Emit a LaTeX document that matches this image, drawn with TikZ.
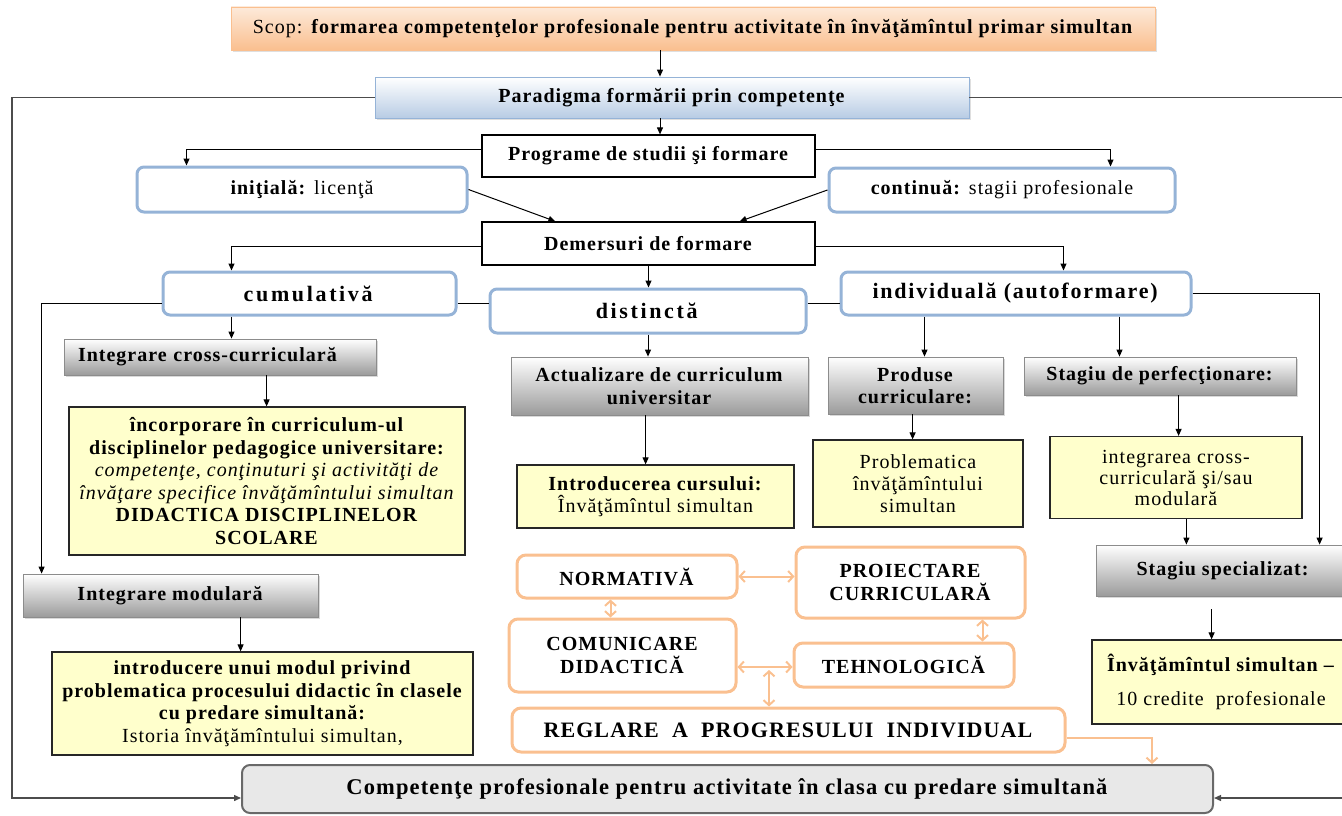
\documentclass[tikz,border=0pt]{standalone}
\usepackage{fontspec}
\setmainfont{Liberation Serif}[LetterSpace=5]
\usetikzlibrary{calc,positioning,arrows.meta,shadows}

\definecolor{scopTop}{RGB}{253,234,218}
\definecolor{scopBot}{RGB}{250,191,143}
\definecolor{paraBot}{RGB}{184,204,228}
\definecolor{boxBlue}{RGB}{149,179,215}
\definecolor{noteYellow}{RGB}{255,255,204}
\definecolor{peach}{RGB}{250,192,144}
\definecolor{compFill}{RGB}{232,232,232}
\definecolor{compLine}{RGB}{105,105,105}
\definecolor{greyBot}{RGB}{155,155,155}

\tikzset{
  arr/.style={-{Triangle[length=7pt,width=6pt]}, line width=1pt, black},
  outline/.style={line width=1.4pt, black!70},
  peacharr/.style={{Straight Barb[length=5pt,width=11pt]}-{Straight Barb[length=5pt,width=11pt]}, line width=2pt, peach},
  plainbox/.style={draw=black, line width=1.2pt, fill=white},
  bluebox/.style={draw=boxBlue, line width=3pt, rounded corners=7pt, fill=white},
  wide/.style={font=\fontsize{22}{24}\selectfont\addfontfeature{LetterSpace=#1}},
  greybox/.style={draw=black!45, line width=.8pt, top color=white, bottom color=greyBot, align=center,
    drop shadow={opacity=.3, shadow xshift=2pt, shadow yshift=-2pt}},
  notebox/.style={draw=black!85, line width=1.2pt, fill=noteYellow, align=center},
  peachbox/.style={draw=peach, line width=3pt, rounded corners=9pt, fill=white, align=center},
}

\begin{document}
\begin{tikzpicture}[x=1pt,y=-1pt,font=\fontsize{20}{22.5}\selectfont]
\useasboundingbox (0,0) rectangle (1342,816);

% Goal and paradigm
\node[draw=scopBot, top color=scopTop, bottom color=scopBot, minimum width=924pt, minimum height=43pt,
  drop shadow={opacity=.25, shadow xshift=2pt, shadow yshift=-2pt}]
  (scop) at (693,28.5) {Scop: \textbf{formarea competenţelor profesionale pentru activitate în învăţămîntul primar simultan}};
\node[draw=boxBlue, line width=.8pt, top color=white, bottom color=paraBot, minimum width=594pt, minimum height=41pt,
  drop shadow={opacity=.25, shadow xshift=2pt, shadow yshift=-2pt}]
  (parad) at (672,97.5) {\textbf{Paradigma formării prin competenţe}};

% Study programmes
\node[plainbox, minimum width=333pt, minimum height=42pt] (prog) at (648.5,156) {\textbf{Programe de studii şi formare}};
\node[bluebox, minimum width=330pt, minimum height=45pt] (init) at (302,189.5) {\textbf{iniţială:} licenţă};
\node[bluebox, minimum width=346pt, minimum height=44pt] (cont) at (1002,190) {\textbf{continuă:} stagii profesionale};
\node[plainbox, minimum width=333pt, minimum height=43pt] (dem) at (648.5,243.5) {\textbf{Demersuri de formare}};

% Three kinds of approach
\node[bluebox, wide=12, minimum width=293pt, minimum height=43pt] (cum) at (309.5,293.5) {\textbf{cumulativă}};
\node[bluebox, wide=12, minimum width=316pt, minimum height=44pt] (dist) at (648,311) {\textbf{distinctă}};
\node[bluebox, wide=8, minimum width=350pt, minimum height=43pt] (indiv) at (1016,293.5) {\textbf{individuală (autoformare)}};

% Left column
\node[greybox, minimum width=312pt, minimum height=36pt, text width=284pt, align=left] (cross) at (220,357) {\textbf{Integrare cross-curriculară}};
\node[notebox, minimum width=396pt, minimum height=148pt] (incorp) at (267,481)
  {\textbf{încorporare în curriculum-ul}\\ \textbf{disciplinelor pedagogice universitare:}\\
   \textit{competenţe, conţinuturi şi activităţi de}\\ \textit{învăţare specifice învăţămîntului simultan}\\
   \textbf{DIDACTICA DISCIPLINELOR}\\ \textbf{SCOLARE}};
\node[greybox, minimum width=295pt, minimum height=43pt] (modul) at (170.5,595.5) {\textbf{Integrare modulară}};
\node[notebox, minimum width=421pt, minimum height=103pt] (introd) at (262.5,703.5)
  {\textbf{introducere unui modul privind}\\ \textbf{problematica procesului didactic în clasele}\\
   \textbf{cu predare simultană:}\\ Istoria învăţămîntului simultan,};

% Middle column
\node[greybox, minimum width=297pt, minimum height=58pt] (actual) at (659.5,386) {\textbf{Actualizare de curriculum}\\ \textbf{universitar}};
\node[notebox, minimum width=277pt, minimum height=63pt] (curs) at (655.5,496.5) {\textbf{Introducerea cursului:}\\ Învăţămîntul simultan};
\node[greybox, minimum width=175pt, minimum height=57pt] (prod) at (915.5,385.5) {\textbf{Produse}\\ \textbf{curriculare:}};
\node[notebox, minimum width=210pt, minimum height=87pt, font=\fontsize{20}{22}\selectfont] (probl) at (918,483.5) {Problematica\\ învăţămîntului\\ simultan};

% Right column
\node[greybox, minimum width=272pt, minimum height=38pt] (sperf) at (1160,376) {\textbf{Stagiu de perfecţionare:}};
\node[notebox, minimum width=252pt, minimum height=82pt, font=\fontsize{20}{21}\selectfont] (integ) at (1176,477.5) {integrarea cross-\\ curriculară şi/sau\\ modulară};
\node[greybox, minimum width=254pt, minimum height=51pt] (sspec) at (1223,570.5) {\textbf{Stagiu specializat:}};
\node[notebox, minimum width=258pt, minimum height=84pt, font=\fontsize{20}{34}\selectfont] (isim) at (1221,682)
  {\textbf{Învăţămîntul simultan –}\\ 10 credite~ profesionale};

% Dimensions of the competences
\node[peachbox, minimum width=220pt, minimum height=43pt] (norm) at (627,576.5) {\textbf{NORMATIVĂ}};
\node[peachbox, minimum width=229pt, minimum height=71pt] (proi) at (910.5,582.5) {\textbf{PROIECTARE}\\ \textbf{CURRICULARĂ}};
\node[peachbox, minimum width=227pt, minimum height=73pt] (comun) at (622.5,655.5) {\textbf{COMUNICARE}\\ \textbf{DIDACTICĂ}};
\node[peachbox, minimum width=220pt, minimum height=44pt] (tehno) at (904,665) {\textbf{TEHNOLOGICĂ}};
\node[peachbox, minimum width=553pt, minimum height=44pt, font=\fontsize{22}{24}\selectfont] (regl) at (788.5,730)
  {\textbf{REGLARE~ A~ PROGRESULUI~ INDIVIDUAL}};

% Result
\node[draw=compLine, line width=2pt, fill=compFill, rounded corners=8pt, minimum width=971pt, minimum height=48pt,
  font=\fontsize{22.5}{24}\selectfont] (comp) at (727.5,789)
  {\textbf{Competenţe profesionale pentru activitate în clasa cu predare simultană}};

% Top arrows
\coordinate (ax) at (660,0);
\draw[arr] (scop.south -| ax) -- (parad.north -| ax);
\draw[arr] (parad.south -| ax) -- (prog.north -| ax);
\draw[arr] ($(prog.west)+(0,-7)$) -| ($(init.north west)+(51,0)$);
\draw[arr] ($(prog.east)+(0,-7)$) -| ($(cont.north west)+(283,0)$);
\draw[arr] (init.east) -- ($(dem.north west)+(74,0)$);
\draw[arr] (cont.west) -- ($(dem.north east)+(-76,0)$);
\draw[arr] ($(dem.west)+(0,2.5)$) -| ($(cum.north west)+(70,0)$);
\draw[arr] ($(dem.east)+(0,2.5)$) -| ($(indiv.north west)+(224,0)$);
\draw[arr] (dem.south) -- (dem.south |- dist.north);

% Links between the approaches
\coordinate (cd) at ($(cum.east)+(0,9.5)$);
\coordinate (di) at ($(dist.east)+(0,-8)$);
\draw[line width=1pt] (cd) -- (cd -| dist.west);
\draw[line width=1pt] (di) -- (di -| indiv.west);
\draw[arr] ($(cum.west)+(0,9.5)$) -| ($(modul.north west)+(19,0)$);
\draw[arr] (indiv.east) -| ($(sspec.north west)+(224,0)$);

% Down arrows in the columns
\draw[arr] (dist.south) -- (dist.south |- actual.north);
\foreach \a/\dx/\b in {cum/70/cross, cross/203/incorp, modul/218/introd, actual/135/curs, indiv/85/prod,
                       indiv/280/sperf, prod/85/probl, sperf/155/integ, integ/137/sspec} {
  \coordinate (t) at ($(\a.south west)+(\dx,0)$);
  \draw[arr] (t) -- (t |- \b.north);
}
\coordinate (t) at ($(sspec.south west)+(116,0)$);
\draw[arr, shorten <=13pt] (t) -- (t |- isim.north);

% Orange links
\coordinate (ct) at ($(comun.east)+(0,11.5)$);
\coordinate (cr) at ($(comun.east)+(31.5,11.5)$);
\draw[peacharr] (norm.east) -- (norm.east -| proi.west);
\draw[peacharr] (ct) -- (ct -| tehno.west);
\foreach \a/\dx/\b in {norm/95/comun, proi/188/tehno} {
  \coordinate (t) at ($(\a.south west)+(\dx,0)$);
  \draw[peacharr] (t) -- (t |- \b.north);
}
\draw[peacharr] ($(cr)+(0,3)$) -- (cr |- regl.north);
\draw[line width=2pt, peach, -{Straight Barb[length=5pt,width=11pt]}] ($(regl.east)+(0,8)$) -| ($(comp.north west)+(911,0)$);

% Outer loop into the result
\coordinate (lo) at (12,500);
\coordinate (ro) at (1352,500);
\draw[outline, -{Triangle[length=7pt,width=6pt]}] (parad.west) -| (lo) |- ($(comp.west)+(0,9)$);
\draw[outline, -{Triangle[length=7pt,width=6pt]}] (parad.east) -| (ro) |- ($(comp.east)+(0,9)$);

\end{tikzpicture}
\end{document}
